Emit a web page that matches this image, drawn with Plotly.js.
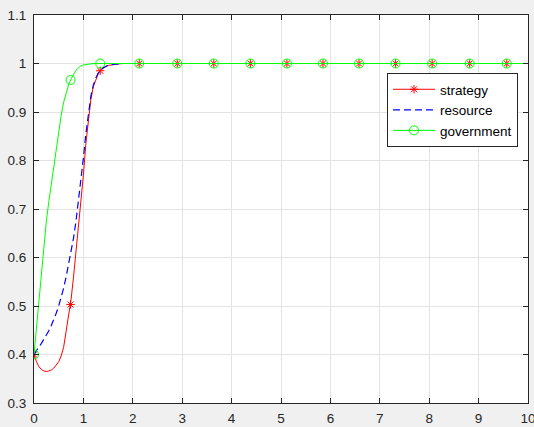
<!DOCTYPE html>
<html>
<head>
<meta charset="utf-8">
<script src="https://cdn.plot.ly/plotly-3.0.1.min.js"></script>
<style>html,body{margin:0;padding:0;background:#f0f0f0;}#chart{width:534px;height:427px;}</style>
</head>
<body>
<div id="chart"></div>
<script>
// time grid for the smooth curves
const tGrid = [0,0.05,0.1,0.15,0.2,0.25,0.3,0.35,0.4,0.45,0.5,0.55,0.6,0.65,0.7,0.75,0.8,0.85,0.9,0.95,1.0,1.05,1.1,1.15,1.2,1.25,1.3,1.35,1.4,1.45,1.5,1.6,1.7,1.8,2.0,10];
const strategyVals = [0.400,0.385,0.375,0.369,0.366,0.365,0.366,0.368,0.372,0.378,0.385,0.397,0.415,0.448,0.478,0.513,0.560,0.610,0.660,0.710,0.770,0.835,0.885,0.925,0.952,0.968,0.979,0.986,0.991,0.994,0.996,0.998,0.999,1,1,1];
const resourceVals = [0.400,0.409,0.416,0.423,0.431,0.440,0.449,0.460,0.472,0.485,0.500,0.517,0.537,0.560,0.585,0.612,0.640,0.675,0.715,0.760,0.805,0.855,0.900,0.932,0.955,0.970,0.980,0.987,0.991,0.994,0.996,0.998,0.999,1,1,1];
const governmentVals = [0.400,0.458,0.515,0.570,0.625,0.675,0.715,0.752,0.787,0.825,0.860,0.893,0.920,0.940,0.956,0.968,0.978,0.986,0.991,0.995,0.997,0.998,0.999,1,1,1,1,1,1,1,1,1,1,1,1,1];
// marker positions
const markX = [0,0.74,1.34,2.13,2.90,3.64,4.38,5.12,5.85,6.58,7.32,8.06,8.82,9.57];
const strategyMarkY = [0.4,0.503,0.985,1,1,1,1,1,1,1,1,1,1,1];
const governmentMarkY = [0.4,0.966,1.0,1,1,1,1,1,1,1,1,1,1,1];
const seriesNames = ['strategy','resource','government'];
const xTicks = [0,1,2,3,4,5,6,7,8,9,10];
const yTicks = [0.3,0.4,0.5,0.6,0.7,0.8,0.9,1,1.1];

const RED='#ff0000', BLUE='#0000ff', GREEN='#00ff00';
const starMarker = {symbol:'asterisk-open', size:7, color:RED, line:{color:RED, width:1}};
const circMarker = {symbol:'circle-open', size:9, color:GREEN, line:{color:GREEN, width:1}};
const blueLine = {color:BLUE, width:1.2, dash:'7px,4px'};

const traces = [
  {x:tGrid, y:strategyVals, mode:'lines', line:{color:RED, width:1}, showlegend:false, hoverinfo:'skip'},
  {x:markX, y:strategyMarkY, mode:'markers', marker:starMarker, showlegend:false},
  {x:tGrid, y:resourceVals, mode:'lines', line:blueLine, showlegend:false},
  {x:tGrid, y:governmentVals, mode:'lines', line:{color:GREEN, width:1}, showlegend:false},
  {x:markX, y:governmentMarkY, mode:'markers', marker:circMarker, showlegend:false},
  // legend entries
  {x:[null], y:[null], name:seriesNames[0], mode:'lines+markers', line:{color:RED, width:1}, marker:starMarker},
  {x:[null], y:[null], name:seriesNames[1], mode:'lines', line:blueLine},
  {x:[null], y:[null], name:seriesNames[2], mode:'lines+markers', line:{color:GREEN, width:1}, marker:circMarker}
];

const axisCommon = {
  showgrid:true, gridcolor:'#e3e3e3', gridwidth:1,
  showline:true, linecolor:'#262626', linewidth:1, mirror:'ticks',
  ticks:'inside', ticklen:5, tickcolor:'#262626', tickwidth:1,
  zeroline:false, ticklabeloverflow:'allow',
  tickfont:{family:'Liberation Sans, Arial, sans-serif', size:13.5, color:'#262626'}
};

const layout = {
  width:534, height:427,
  paper_bgcolor:'#f0f0f0', plot_bgcolor:'#ffffff',
  margin:{l:34, r:6, t:15, b:24, pad:0},
  xaxis:Object.assign({}, axisCommon, {range:[0,10], tickvals:xTicks, ticktext:xTicks.map(String), ticklabelstandoff:3}),
  yaxis:Object.assign({}, axisCommon, {range:[0.3,1.1], tickvals:yTicks, ticktext:yTicks.map(String), ticklabelstandoff:4}),
  showlegend:true,
  legend:{x:0.7146, y:0.8505, xanchor:'left', yanchor:'top', bgcolor:'#ffffff', bordercolor:'#262626', borderwidth:1,
    font:{family:'Liberation Sans, Arial, sans-serif', size:13.5, color:'#000000'}, tracegroupgap:0, itemwidth:42}
};

Plotly.newPlot('chart', traces, layout, {staticPlot:true, displayModeBar:false});
</script>
</body>
</html>
